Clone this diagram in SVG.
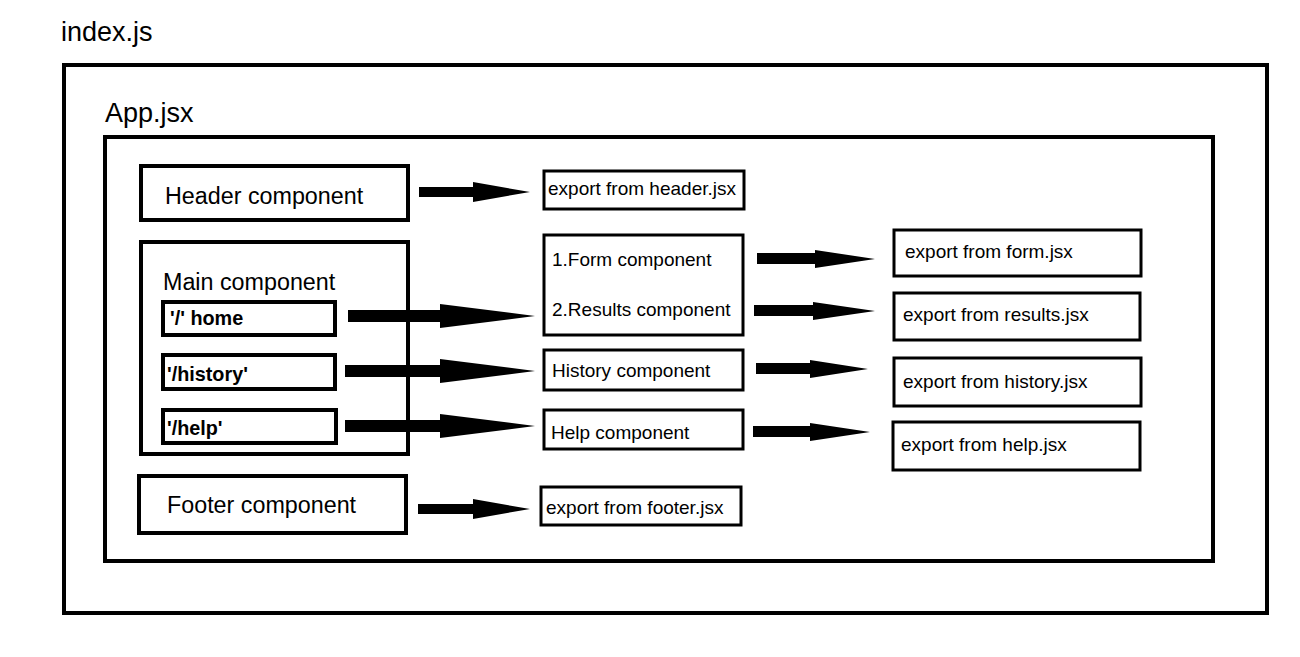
<svg xmlns="http://www.w3.org/2000/svg" width="1300" height="657" viewBox="0 0 1300 657">
<style>
.box{fill:#fff;stroke:#000;stroke-width:4}
.thin{fill:#fff;stroke:#000;stroke-width:3}
.t{font-family:"Liberation Sans",Arial,sans-serif;fill:#000}
.big{font-size:27px}
.mid{font-size:23.3px}
.sm{font-size:19px}
.b{font-size:19.8px;font-weight:bold}
.arr{fill:#000}
</style>
<rect width="1300" height="657" fill="#fff"/>
<g id="index">
<text class="t big" x="61" y="41">index.js</text>
<rect class="box" x="64" y="65" width="1203" height="548"/>
</g>
<g id="app">
<text class="t big" x="105" y="122">App.jsx</text>
<rect class="box" x="105" y="137" width="1108" height="424"/>
</g>
<g id="header">
<rect class="box" x="141" y="166" width="267" height="54"/>
<text class="t mid" x="165" y="204">Header component</text>
</g>
<g id="main">
<rect class="box" x="141" y="242" width="267" height="212"/>
<text class="t mid" x="163" y="290">Main component</text>
</g>
<g id="home">
<rect class="box" x="163" y="302" width="172" height="33"/>
<text class="t b" x="170" y="325">'/' home</text>
</g>
<g id="history">
<rect class="box" x="163" y="355" width="172" height="34"/>
<text class="t b" x="167" y="381">'/history'</text>
</g>
<g id="help">
<rect class="box" x="163" y="410" width="173" height="33"/>
<text class="t b" x="167" y="435">'/help'</text>
</g>
<g id="footer">
<rect class="box" x="139" y="476" width="267" height="57"/>
<text class="t mid" x="167" y="513">Footer component</text>
</g>
<g id="exp-header">
<rect class="thin" x="544" y="171" width="200" height="38"/>
<text class="t sm" x="548" y="195">export from header.jsx</text>
</g>
<g id="form-results">
<rect class="thin" x="544" y="235" width="199" height="100"/>
<text class="t sm" x="552" y="266">1.Form component</text>
<text class="t sm" x="552" y="316">2.Results component</text>
</g>
<g id="history-comp">
<rect class="thin" x="544" y="350" width="199" height="40"/>
<text class="t sm" x="552" y="377">History component</text>
</g>
<g id="help-comp">
<rect class="thin" x="544" y="410" width="199" height="39"/>
<text class="t sm" x="551" y="439">Help component</text>
</g>
<g id="exp-form">
<rect class="thin" x="894" y="230" width="247" height="46"/>
<text class="t sm" x="905" y="258">export from form.jsx</text>
</g>
<g id="exp-results">
<rect class="thin" x="894" y="293" width="246" height="47"/>
<text class="t sm" x="903" y="321">export from results.jsx</text>
</g>
<g id="exp-history">
<rect class="thin" x="894" y="358" width="247" height="48"/>
<text class="t sm" x="903" y="388">export from history.jsx</text>
</g>
<g id="exp-help">
<rect class="thin" x="893" y="422" width="247" height="48"/>
<text class="t sm" x="901" y="451">export from help.jsx</text>
</g>
<g id="exp-footer">
<rect class="thin" x="541" y="487" width="200" height="38"/>
<text class="t sm" x="546" y="514">export from footer.jsx</text>
</g>
<g id="connectors">
<polygon class="arr" points="419,187 473,187 473,182 530,192 473,202 473,197 419,197"/>
<polygon class="arr" points="348,310 440,310 440,304 535,316 440,328 440,322 348,322"/>
<polygon class="arr" points="345,365 440,365 440,359 535,371 440,383 440,377 345,377"/>
<polygon class="arr" points="345,420 440,420 440,414 535,426 440,438 440,432 345,432"/>
<polygon class="arr" points="757,253 815,253 815,250 875,259 815,268 815,264 757,264"/>
<polygon class="arr" points="754,305 813,305 813,302 875,311 813,320 813,316 754,316"/>
<polygon class="arr" points="756,363 810,363 810,360 868,369 810,378 810,374 756,374"/>
<polygon class="arr" points="753,426 810,426 810,423 870,432 810,441 810,437 753,437"/>
<polygon class="arr" points="418,504 473,504 473,499 530,509 473,519 473,514 418,514"/>
</g>
</svg>
